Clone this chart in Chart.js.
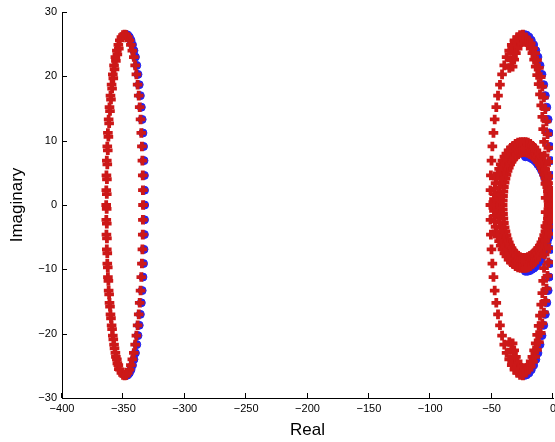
<!DOCTYPE html>
<html>
<head>
<meta charset="utf-8">
<script src="https://cdn.jsdelivr.net/npm/chart.js@4.4.1/dist/chart.umd.min.js"></script>
<style>
  html, body { margin: 0; padding: 0; background: #fff; }
  canvas { display: block; }
</style>
</head>
<body>
<canvas id="rootChart" width="555" height="442"></canvas>
<script>
// axis ticks
const realTicks = [-400, -350, -300, -250, -200, -150, -100, -50, 0];
const imagTicks = [-30, -20, -10, 0, 10, 20, 30];

// left locus (red)
const leftRingRe = [
  -334.0,-334.1,-334.2,-334.5,-334.9,-335.4,-336.0,-336.7,-337.5,-338.4,-339.4,-340.4,-341.5,-342.7,-343.9,-345.1,-346.4,-347.7,-349.0,
  -364.0,-363.9,-363.8,-363.5,-363.1,-362.6,-362.0,-361.3,-360.5,-359.6,-358.6,-357.6,-356.5,-355.3,-354.1,-352.9,-351.6,-350.3,
  -363.9,-363.8,-363.5,-363.1,-362.6,-362.0,-361.3,-360.5,-359.6,-358.6,-357.6,-356.5,-355.3,-354.1,-352.9,-351.6,-350.3,-349.0,
  -334.1,-334.2,-334.5,-334.9,-335.4,-336.0,-336.7,-337.5,-338.4,-339.4,-340.4,-341.5,-342.7,-343.9,-345.1,-346.4,-347.7
];
const leftRingIm = [
  0,2.3,4.6,6.9,9.1,11.2,13.3,15.2,17.0,18.7,20.3,21.7,23.0,24.0,24.9,25.6,26.1,26.4,26.5,
  0,2.3,4.6,6.9,9.1,11.2,13.3,15.2,17.0,18.7,20.3,21.7,23.0,24.0,24.9,25.6,26.1,26.4,
  -2.3,-4.6,-6.9,-9.1,-11.2,-13.3,-15.2,-17.0,-18.7,-20.3,-21.7,-23.0,-24.0,-24.9,-25.6,-26.1,-26.4,-26.5,
  -2.3,-4.6,-6.9,-9.1,-11.2,-13.3,-15.2,-17.0,-18.7,-20.3,-21.7,-23.0,-24.0,-24.9,-25.6,-26.1,-26.4
];
// second red trace sitting on the left edge (makes it look thicker)
const leftEdgeRe = [
  -363.5,-363.4,-363.1,-362.7,-362.2,-361.6,-360.9,-360.1,-359.2,-358.2,-357.2,-356.1,-354.9,-353.7,
  -363.6,-363.5,-363.4,-363.1,-362.7,-362.2,-361.6,-360.9,-360.1,-359.2,-358.2,-357.2,-356.1,-354.9,-353.7
];
const leftEdgeIm = [
  1.7,4.0,6.3,8.5,10.6,12.7,14.6,16.4,18.1,19.7,21.1,22.4,23.4,24.3,
  -0.6,-2.9,-5.2,-7.5,-9.7,-11.8,-13.9,-15.8,-17.6,-19.3,-20.9,-22.3,-23.6,-24.6,-25.5
];
// left locus (blue), only the visible right half
const leftBlueRe = [
  -332.7,-332.8,-332.9,-333.2,-333.6,-334.1,-334.7,-335.4,-336.2,-337.1,-338.1,-339.1,-340.2,-341.4,-342.6,-343.8,-345.1,-346.4,-347.7,
  -332.8,-332.9,-333.2,-333.6,-334.1,-334.7,-335.4,-336.2,-337.1,-338.1,-339.1,-340.2,-341.4,-342.6,-343.8,-345.1,-346.4,-347.7
];
const leftBlueIm = [
  0,2.3,4.6,6.9,9.1,11.2,13.3,15.2,17.0,18.7,20.3,21.7,23.0,24.0,24.9,25.6,26.1,26.4,26.5,
  -2.3,-4.6,-6.9,-9.1,-11.2,-13.3,-15.2,-17.0,-18.7,-20.3,-21.7,-23.0,-24.0,-24.9,-25.6,-26.1,-26.4,-26.5
];

// big right locus: sparse left half
const bigSparseRe = [
  -51.0,-50.9,-50.6,-50.1,-49.4,-48.5,-47.5,-46.2,-44.8,-43.2,-41.5,-39.7,-37.8,-35.7,-33.6,-31.4,-29.1,-26.8,-24.5,
  -50.9,-50.6,-50.1,-49.4,-48.5,-47.5,-46.2,-44.8,-43.2,-41.5,-39.7,-37.8,-35.7,-33.6,-31.4,-29.1,-26.8,-24.5
];
const bigSparseIm = [
  0,2.3,4.6,6.9,9.1,11.2,13.3,15.2,17.0,18.7,20.3,21.7,23.0,24.0,24.9,25.6,26.1,26.4,26.5,
  -2.3,-4.6,-6.9,-9.1,-11.2,-13.3,-15.2,-17.0,-18.7,-20.3,-21.7,-23.0,-24.0,-24.9,-25.6,-26.1,-26.4,-26.5
];
// big right locus: dense right band, outer trace
const bigRightARe = [
  -2.5,-2.6,-2.8,-3.2,-3.8,-4.5,-5.3,-6.3,-7.4,-8.7,-10.0,-11.5,-13.0,-14.6,-16.3,-18.1,-19.9,-21.7,-23.5,-25.3,-27.2,-28.9,-30.7,-32.4,-34.0,-35.6,
  -2.6,-2.8,-3.2,-3.8,-4.5,-5.3,-6.3,-7.4,-8.7,-10.0,-11.5,-13.0,-14.6,-16.3,-18.1,-19.9,-21.7,-23.5,-25.3,-27.2,-28.9,-30.7,-32.4,-34.0,-35.6
];
const bigRightAIm = [
  0,2.3,4.5,6.7,8.9,11.0,13.0,14.9,16.7,18.4,19.9,21.3,22.5,23.6,24.4,25.1,25.6,25.9,26.0,25.9,25.6,25.1,24.4,23.6,22.5,21.3,
  -2.3,-4.5,-6.7,-8.9,-11.0,-13.0,-14.9,-16.7,-18.4,-19.9,-21.3,-22.5,-23.6,-24.4,-25.1,-25.6,-25.9,-26.0,-25.9,-25.6,-25.1,-24.4,-23.6,-22.5,-21.3
];
// big right locus: dense right band, inner trace
const bigRightBRe = [
  -6.0,-6.2,-6.4,-6.8,-7.3,-8.0,-8.7,-9.6,-10.6,-11.7,-12.9,-14.1,-15.4,-16.8,-18.2,-19.7,-21.2,-22.7,-24.3,-25.8,-27.3,-28.8,-30.2,-31.6,-32.9,
  -6.0,-6.2,-6.4,-6.8,-7.3,-8.0,-8.7,-9.6,-10.6,-11.7,-12.9,-14.1,-15.4,-16.8,-18.2,-19.7,-21.2,-22.7,-24.3,-25.8,-27.3,-28.8,-30.2,-31.6,-32.9
];
const bigRightBIm = [
  1.1,3.3,5.5,7.7,9.8,11.8,13.7,15.5,17.2,18.8,20.2,21.5,22.6,23.6,24.3,24.9,25.3,25.5,25.5,25.3,24.9,24.3,23.6,22.6,21.5,
  -1.1,-3.3,-5.5,-7.7,-9.8,-11.8,-13.7,-15.5,-17.2,-18.8,-20.2,-21.5,-22.6,-23.6,-24.3,-24.9,-25.3,-25.5,-25.5,-25.3,-24.9,-24.3,-23.6,-22.6,-21.5
];
// big right locus (blue)
const bigBlueRe = [
  -1.0,-1.1,-1.3,-1.8,-2.4,-3.1,-4.0,-5.1,-6.3,-7.6,-9.0,-10.6,-12.3,-14.0,-15.8,-17.7,-19.6,-21.5,-23.5,-25.5,-27.4,
  -1.1,-1.3,-1.8,-2.4,-3.1,-4.0,-5.1,-6.3,-7.6,-9.0,-10.6,-12.3,-14.0,-15.8,-17.7,-19.6,-21.5,-23.5,-25.5,-27.4
];
const bigBlueIm = [
  0,2.3,4.6,6.9,9.1,11.2,13.3,15.2,17.0,18.7,20.3,21.7,23.0,24.0,24.9,25.6,26.1,26.4,26.5,26.4,26.1,
  -2.3,-4.6,-6.9,-9.1,-11.2,-13.3,-15.2,-17.0,-18.7,-20.3,-21.7,-23.0,-24.0,-24.9,-25.6,-26.1,-26.4,-26.5,-26.4,-26.1
];

// small right locus, three red traces
const smallOuterRe = [
  -2.7,-2.8,-3.0,-3.4,-4.0,-4.7,-5.6,-6.6,-7.7,-9.0,-10.4,-11.9,-13.5,-15.1,-16.9,-18.6,-20.5,-22.3,-24.2,
  -48.2,-48.1,-47.8,-47.4,-46.8,-46.0,-45.0,-43.9,-42.6,-41.2,-39.6,-38.0,-36.2,-34.3,-32.4,-30.4,-28.4,-26.3,
  -48.1,-47.8,-47.4,-46.8,-46.0,-45.0,-43.9,-42.6,-41.2,-39.6,-38.0,-36.2,-34.3,-32.4,-30.4,-28.4,-26.3,-24.2,
  -2.8,-3.0,-3.4,-4.0,-4.7,-5.6,-6.6,-7.7,-9.0,-10.4,-11.9,-13.5,-15.1,-16.9,-18.6,-20.5,-22.3
];
const smallOuterIm = [
  0,0.9,1.7,2.5,3.4,4.1,4.9,5.6,6.3,6.9,7.5,8.0,8.5,8.9,9.2,9.5,9.7,9.8,9.8,
  0,0.9,1.7,2.5,3.4,4.1,4.9,5.6,6.3,6.9,7.5,8.0,8.5,8.9,9.2,9.5,9.7,9.8,
  -0.9,-1.7,-2.5,-3.4,-4.1,-4.9,-5.6,-6.3,-6.9,-7.5,-8.0,-8.5,-8.9,-9.2,-9.5,-9.7,-9.8,-9.8,
  -0.9,-1.7,-2.5,-3.4,-4.1,-4.9,-5.6,-6.3,-6.9,-7.5,-8.0,-8.5,-8.9,-9.2,-9.5,-9.7,-9.8
];
const smallMidRe = [
  -3.0,-3.2,-3.5,-4.0,-4.6,-5.4,-6.3,-7.3,-8.5,-9.8,-11.2,-12.7,-14.3,-16.0,-17.7,-19.5,-21.3,-23.1,
  -44.5,-44.3,-44.0,-43.6,-42.9,-42.2,-41.3,-40.3,-39.1,-37.9,-36.5,-35.0,-33.5,-31.9,-30.2,-28.4,-26.7,-24.9,
  -3.0,-3.2,-3.5,-4.0,-4.6,-5.4,-6.3,-7.3,-8.5,-9.8,-11.2,-12.7,-14.3,-16.0,-17.7,-19.5,-21.3,-23.1,
  -44.5,-44.3,-44.0,-43.6,-42.9,-42.2,-41.3,-40.3,-39.1,-37.9,-36.5,-35.0,-33.5,-31.9,-30.2,-28.4,-26.7,-24.9
];
const smallMidIm = [
  0.4,1.2,1.9,2.7,3.4,4.2,4.8,5.5,6.1,6.6,7.1,7.6,8.0,8.3,8.6,8.8,8.9,9.0,
  0.4,1.2,1.9,2.7,3.4,4.2,4.8,5.5,6.1,6.6,7.1,7.6,8.0,8.3,8.6,8.8,8.9,9.0,
  -0.4,-1.2,-1.9,-2.7,-3.4,-4.2,-4.8,-5.5,-6.1,-6.6,-7.1,-7.6,-8.0,-8.3,-8.6,-8.8,-8.9,-9.0,
  -0.4,-1.2,-1.9,-2.7,-3.4,-4.2,-4.8,-5.5,-6.1,-6.6,-7.1,-7.6,-8.0,-8.3,-8.6,-8.8,-8.9,-9.0
];
const smallInnerRe = [
  -3.5,-3.6,-3.8,-4.2,-4.7,-5.4,-6.2,-7.2,-8.3,-9.5,-10.8,-12.2,-13.8,-15.3,-17.0,-18.7,-20.4,-22.2,-24.0,
  -41.0,-40.9,-40.7,-40.4,-40.0,-39.4,-38.7,-37.9,-37.0,-36.0,-34.9,-33.8,-32.5,-31.2,-29.8,-28.4,-27.0,-25.5,
  -40.9,-40.7,-40.4,-40.0,-39.4,-38.7,-37.9,-37.0,-36.0,-34.9,-33.8,-32.5,-31.2,-29.8,-28.4,-27.0,-25.5,-24.0,
  -3.6,-3.8,-4.2,-4.7,-5.4,-6.2,-7.2,-8.3,-9.5,-10.8,-12.2,-13.8,-15.3,-17.0,-18.7,-20.4,-22.2
];
const smallInnerIm = [
  0,0.7,1.4,2.1,2.8,3.5,4.1,4.7,5.3,5.8,6.3,6.7,7.1,7.4,7.7,7.9,8.1,8.2,8.2,
  0,0.7,1.4,2.1,2.8,3.5,4.1,4.7,5.3,5.8,6.3,6.7,7.1,7.4,7.7,7.9,8.1,8.2,
  -0.7,-1.4,-2.1,-2.8,-3.5,-4.1,-4.7,-5.3,-5.8,-6.3,-6.7,-7.1,-7.4,-7.7,-7.9,-8.1,-8.2,-8.2,
  -0.7,-1.4,-2.1,-2.8,-3.5,-4.1,-4.7,-5.3,-5.8,-6.3,-6.7,-7.1,-7.4,-7.7,-7.9,-8.1,-8.2
];
// small right locus (blue), visible right half
const smallBlueRe = [
  -2.0,-2.1,-2.3,-2.7,-3.2,-3.9,-4.8,-5.7,-6.8,-8.0,-9.3,-10.7,-12.3,-13.8,-15.5,-17.2,-18.9,-20.7,-22.5,
  -2.1,-2.3,-2.7,-3.2,-3.9,-4.8,-5.7,-6.8,-8.0,-9.3,-10.7,-12.3,-13.8,-15.5,-17.2,-18.9,-20.7,-22.5
];
const smallBlueIm = [
  -1.4,-0.6,0.2,0.9,1.6,2.4,3.1,3.7,4.3,4.9,5.4,5.9,6.3,6.7,7.0,7.2,7.4,7.5,7.5,
  -2.2,-3.0,-3.7,-4.4,-5.2,-5.9,-6.5,-7.1,-7.7,-8.2,-8.7,-9.1,-9.5,-9.8,-10.0,-10.2,-10.3,-10.3
];

const RED = '#cc1818';
const BLUE = '#2424f0';

function pts(re, im) {
  return re.map((x, i) => ({ x: x, y: im[i] }));
}

function minus(v) {
  return String(v).replace('-', '\u2212');
}

function redSet(re, im) {
  return {
    data: pts(re, im),
    pointStyle: 'cross',
    pointRadius: 4.8,
    pointBorderWidth: 3.8,
    borderColor: RED,
    backgroundColor: RED,
    order: 1
  };
}

function blueSet(re, im) {
  return {
    data: pts(re, im),
    pointStyle: 'circle',
    pointRadius: 4,
    pointBorderWidth: 1,
    borderColor: BLUE,
    backgroundColor: BLUE,
    order: 2
  };
}

// matlab style ticks pointing into the plot
const inwardTicks = {
  id: 'inwardTicks',
  afterDraw(chart) {
    const { ctx, chartArea: a, scales } = chart;
    ctx.save();
    ctx.strokeStyle = '#000';
    ctx.lineWidth = 1;
    ctx.beginPath();
    realTicks.forEach(v => {
      const px = Math.round(scales.x.getPixelForValue(v)) - 0.5;
      ctx.moveTo(px, a.bottom);
      ctx.lineTo(px, a.bottom - 5);
    });
    imagTicks.forEach(v => {
      const py = Math.round(scales.y.getPixelForValue(v)) + 0.5;
      ctx.moveTo(a.left, py);
      ctx.lineTo(a.left + 5, py);
    });
    ctx.stroke();
    ctx.restore();
  }
};

const tickFont = { family: 'Liberation Sans', size: 11 };
const titleFont = { family: 'Liberation Sans', size: 17, lineHeight: 1.2 };

new Chart(document.getElementById('rootChart'), {
  type: 'scatter',
  data: {
    datasets: [
      blueSet(leftBlueRe, leftBlueIm),
      blueSet(bigBlueRe, bigBlueIm),
      blueSet(smallBlueRe, smallBlueIm),
      redSet(leftRingRe, leftRingIm),
      redSet(leftEdgeRe, leftEdgeIm),
      redSet(bigSparseRe, bigSparseIm),
      redSet(bigRightARe, bigRightAIm),
      redSet(bigRightBRe, bigRightBIm),
      redSet(smallOuterRe, smallOuterIm),
      redSet(smallMidRe, smallMidIm),
      redSet(smallInnerRe, smallInnerIm)
    ]
  },
  options: {
    responsive: false,
    animation: false,
    events: [],
    layout: { autoPadding: false, padding: { top: 12, right: 2, left: 0, bottom: 0 } },
    plugins: {
      legend: { display: false },
      tooltip: { enabled: false }
    },
    scales: {
      x: {
        type: 'linear',
        min: -400,
        max: 0,
        afterBuildTicks: s => { s.ticks = realTicks.map(v => ({ value: v })); },
        afterFit: s => { s.height = 44; s.paddingLeft = 0; s.paddingRight = 0; },
        grid: { drawOnChartArea: false, drawTicks: false },
        border: { display: true, color: '#000', width: 1 },
        ticks: { color: '#000', padding: 4, font: tickFont, maxRotation: 0, autoSkip: false, callback: v => minus(v) },
        title: { display: true, text: 'Real', color: '#000', font: titleFont, padding: { top: 0, bottom: 1 } }
      },
      y: {
        type: 'linear',
        min: -30,
        max: 30,
        afterBuildTicks: s => { s.ticks = imagTicks.map(v => ({ value: v })); },
        afterFit: s => { s.width = 62; s.paddingTop = 0; s.paddingBottom = 0; },
        grid: { drawOnChartArea: false, drawTicks: false },
        border: { display: true, color: '#000', width: 1 },
        ticks: { color: '#000', padding: 5, font: tickFont, autoSkip: false, callback: v => minus(v) },
        title: { display: true, text: 'Imaginary', color: '#000', font: titleFont, padding: { top: 7, bottom: 0 } }
      }
    }
  },
  plugins: [inwardTicks]
});
</script>
</body>
</html>
